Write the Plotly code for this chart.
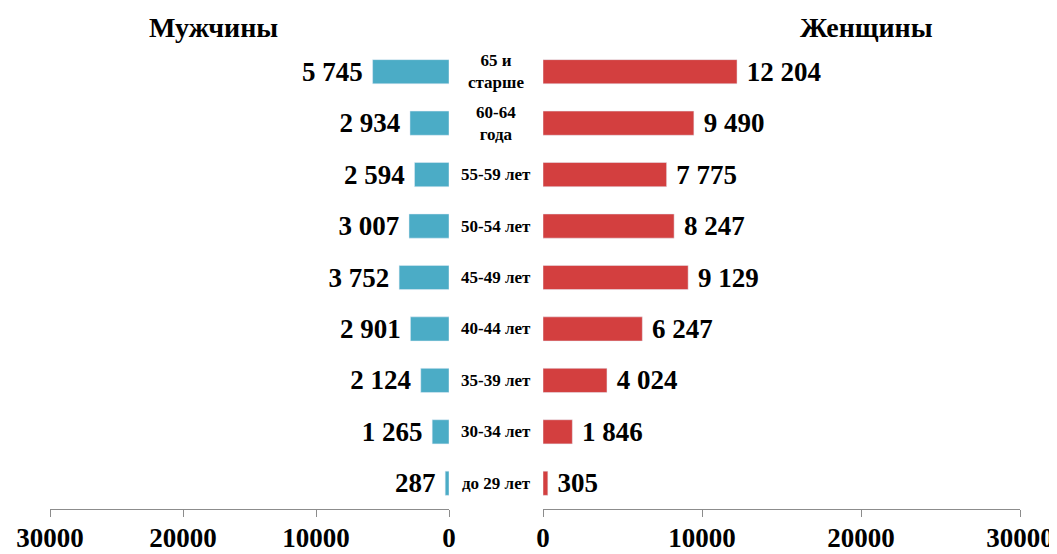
import plotly.graph_objects as go

ages = ['65 и<br>старше', '60-64<br>года', '55-59 лет', '50-54 лет', '45-49 лет',
        '40-44 лет', '35-39 лет', '30-34 лет', 'до 29 лет']
men = [5745, 2934, 2594, 3007, 3752, 2901, 2124, 1265, 287]
women = [12204, 9490, 7775, 8247, 9129, 6247, 4024, 1846, 305]
ticks = [0, 10000, 20000, 30000]

FONT = 'Liberation Serif'
# the page puts the figure 8px in from the top-left corner
OFF = 8
W, H = 1057, 546
T, B = 46 - OFF, H - (509 - OFF)
NB = '\u00a0'


def fmt(v):
    return f'{v:,}'.replace(',', ' ')


def px(x):
    return (x - OFF) / W


fig = go.Figure()
fig.add_trace(go.Bar(
    y=ages, x=men, orientation='h', xaxis='x', yaxis='y',
    marker=dict(color='#4BACC6'),
    text=[f'<b>{fmt(v)}</b>' + NB for v in men], textposition='outside',
    textfont=dict(family=FONT, size=27, color='black'),
    constraintext='none',
    cliponaxis=False, showlegend=False, hoverinfo='none',
))
fig.add_trace(go.Bar(
    y=ages, x=women, orientation='h', xaxis='x2', yaxis='y2',
    marker=dict(color='#D33F3F'),
    text=[NB + f'<b>{fmt(v)}</b>' for v in women], textposition='outside',
    textfont=dict(family=FONT, size=27, color='black'),
    constraintext='none',
    cliponaxis=False, showlegend=False, hoverinfo='none',
))

axis_common = dict(
    tickvals=ticks, ticktext=[f'<b>{t}</b>' for t in ticks],
    showgrid=False, zeroline=False,
    showline=True, linecolor='#8c8c8c', linewidth=1,
    ticks='outside', tickcolor='#8c8c8c', ticklen=7,
    tickfont=dict(family=FONT, size=27, color='black'),
    ticklabelstandoff=-2,
    automargin=False,
)
y_common = dict(
    categoryorder='array', categoryarray=ages[::-1],
    showticklabels=False, showgrid=False, zeroline=False, showline=False,
    range=[-0.5, 8.5], automargin=False,
)

fig.update_layout(
    width=W, height=H,
    margin=dict(l=0, r=0, t=T, b=B),
    plot_bgcolor='white', paper_bgcolor='white',
    bargap=0.53,
    xaxis=dict(domain=[px(50), px(449)], range=[30000, 0], anchor='y', **axis_common),
    xaxis2=dict(domain=[px(543), px(1020)], range=[0, 30000], anchor='y2', **axis_common),
    yaxis=dict(anchor='x', **y_common),
    yaxis2=dict(anchor='x2', **y_common),
    font=dict(family=FONT, color='black'),
)

for a in ages:
    fig.add_annotation(
        x=px(496), xref='paper', y=a, yref='y', xanchor='center',
        text=f'<b>{a}</b>', showarrow=False,
        font=dict(family=FONT, size=17, color='black'),
    )

title_y = 1 + (46 - 28) / (H - T - B)
fig.add_annotation(x=px(213), xref='paper', y=title_y, yref='paper',
                   xanchor='center', yanchor='middle',
                   text='<b>Мужчины</b>', showarrow=False,
                   font=dict(family=FONT, size=28, color='black'))
fig.add_annotation(x=px(866), xref='paper', y=title_y, yref='paper',
                   xanchor='center', yanchor='middle',
                   text='<b>Женщины</b>', showarrow=False,
                   font=dict(family=FONT, size=28, color='black'))

fig.write_html('out.html')
